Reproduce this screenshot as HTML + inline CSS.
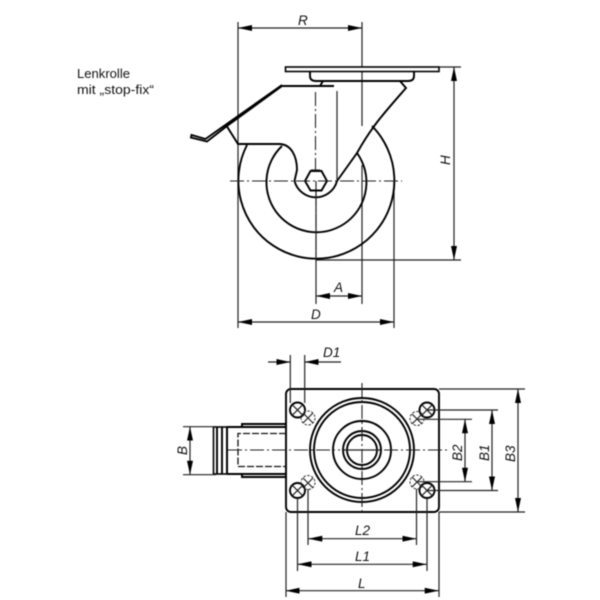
<!DOCTYPE html>
<html><head><meta charset="utf-8"><style>
html,body{margin:0;padding:0;background:#fff}
svg{display:block;filter:blur(.4px)}
text{font-family:"Liberation Sans",sans-serif;fill:#111}
.d{font-size:13.5px;font-style:italic}
.t{fill:none;stroke:#000;stroke-width:1.9}
.n{fill:none;stroke:#222;stroke-width:1.2}
.c{fill:none;stroke:#222;stroke-width:1.1;stroke-dasharray:14 3 2 3}
.h{fill:none;stroke:#333;stroke-width:1;stroke-dasharray:2.5 1.5}
.m{fill:none;stroke:#111;stroke-width:1.3;stroke-dasharray:7 2}
</style></head><body>
<svg width="600" height="600" viewBox="0 0 600 600" xmlns="http://www.w3.org/2000/svg">
<defs>
<marker id="a" viewBox="0 0 14 6" refX="14" refY="3" markerWidth="14" markerHeight="6" markerUnits="userSpaceOnUse" orient="auto-start-reverse"><path d="M0 0L14 3L0 6Z" fill="#000"/></marker>
</defs>

<text x="77" y="78" style="font-size:13px" textLength="53" lengthAdjust="spacingAndGlyphs">Lenkrolle</text>
<text x="77" y="94" style="font-size:13px" textLength="77" lengthAdjust="spacingAndGlyphs">mit „stop-fix“</text>

<!-- side view -->
<path class="n" d="M238 22V328M362 22V126M394 181V328M316 181V304M362 165V304M439 67H461M316 260H461"/>
<path class="n" d="M238 28H362" marker-start="url(#a)" marker-end="url(#a)"/>
<path class="n" d="M454 67V260" marker-start="url(#a)" marker-end="url(#a)"/>
<path class="n" d="M316 296H362" marker-start="url(#a)" marker-end="url(#a)"/>
<path class="n" d="M238 322H394" marker-start="url(#a)" marker-end="url(#a)"/>

<rect x="285.500" y="67" width="153.500" height="4.500" fill="#fff" stroke="#000" stroke-width="1.6"/>
<path class="t" d="M310 71.500V76Q310 81 316 81H408Q414 81 414 76V71.500"/>
<path class="t" d="M323 81L320 86M400 81L406 88C385 112 372 126 357 153L337 181"/>
<path class="t" d="M334 86H282L227 126L207 141.500L191 137.500L191.500 135L205.500 139L226 124.500L282 85"/>
<path class="t" d="M227 126.500L238 144H279C291 144 297 156 297 170L294.500 181A22 22 0 0 0 337 181"/>
<path class="t" d="M247 145A78 78 0 1 0 372 126"/>
<path class="t" d="M282 146A50 50 0 1 0 357 153"/>
<path class="t" d="M305 181L310.500 171H321.500L327 181L321.500 190.500H310.500Z" stroke-width="2"/>
<path class="n" d="M337 91V180"/>
<path class="c" d="M315.500 92V170"/>
<path class="c" d="M230 181H402"/>
<path class="c" d="M316 192V260"/>
<path class="n" d="M311 170H320"/>

<text class="d" x="298" y="25">R</text>
<text class="d" x="334" y="292">A</text>
<text class="d" x="311" y="319">D</text>
<text class="d" transform="translate(450,165) rotate(-90)">H</text>

<!-- top view -->
<rect x="286" y="389" width="153" height="123" rx="5" ry="5" fill="none" stroke="#000" stroke-width="1.9"/>
<g class="t">
<circle cx="362" cy="450" r="52"/>
<circle cx="362" cy="450" r="48"/>
<circle cx="362" cy="450" r="29"/>
<circle cx="362" cy="450" r="19"/>
<circle cx="362" cy="450" r="15"/>
</g>
<g fill="none" stroke="#000" stroke-width="1.9">
<circle cx="297.500" cy="410" r="7.500"/><circle cx="427" cy="410" r="7.500"/>
<circle cx="297.500" cy="490.500" r="7.500"/><circle cx="427" cy="490.500" r="7.500"/>
</g>
<path class="n" d="M292.200 404.700L302.800 415.300M302.800 404.700L292.200 415.300M421.700 404.700L432.300 415.300M432.300 404.700L421.700 415.300M292.200 485.200L302.800 495.800M302.800 485.200L292.200 495.800M421.700 485.200L432.300 495.800M432.300 485.200L421.700 495.800"/>
<g class="h">
<circle cx="308" cy="418" r="7"/><circle cx="417" cy="418.500" r="7"/>
<circle cx="308" cy="482.500" r="7"/><circle cx="417" cy="482" r="7"/>
</g>
<path class="n" d="M303 423L313 413M303 413L313 423M412 424L422 414M412 414L422 424M303 488L313 478M303 478L313 488M412 487L422 477M412 477L422 487" stroke-width="1"/>

<!-- wheel and fork -->
<rect x="213.500" y="427" width="13.500" height="47" fill="none" stroke="#000" stroke-width="1.6"/>
<path class="t" d="M217 427V474M222 427V474M227 427V474"/>
<path class="t" d="M227 427H286M227 474H286M242 427V424H286M242 474V477H286" stroke-width="1.6"/>
<path class="m" d="M286 433.500H238L238 466.500H286"/>
<path class="c" d="M228 450H340"/>
<path class="c" d="M384 450H448"/>
<path class="c" d="M362 383V515"/>
<path class="n" d="M344 450H380"/>

<!-- dims top view -->
<path class="n" d="M290.300 355V403M304.700 355V403"/>
<path class="n" d="M268 362H290.300" marker-end="url(#a)"/>
<path class="n" d="M341 362H304.700" marker-end="url(#a)"/>
<path class="n" d="M183 426.700H216M183 474.700H216"/>
<path class="n" d="M190 426.700V474.700" marker-start="url(#a)" marker-end="url(#a)"/>

<path class="n" d="M439 389H525M439 512H525M427 410H498M427 490.500H498M417 419.300H472M417 481.700H472"/>
<path class="n" d="M465 419.300V481.700" marker-start="url(#a)" marker-end="url(#a)"/>
<path class="n" d="M492 410V490.500" marker-start="url(#a)" marker-end="url(#a)"/>
<path class="n" d="M518 389V512" marker-start="url(#a)" marker-end="url(#a)"/>

<path class="n" d="M286 512V597M439 512V597M297.500 498V571M427 498V571M308 489V545M416.500 489V545"/>
<path class="n" d="M308.300 538.700H416.300" marker-start="url(#a)" marker-end="url(#a)"/>
<path class="n" d="M297.500 564.300H426.700" marker-start="url(#a)" marker-end="url(#a)"/>
<path class="n" d="M285.700 590.700H438.700" marker-start="url(#a)" marker-end="url(#a)"/>

<text class="d" x="323" y="357">D1</text>
<text class="d" transform="translate(187,455) rotate(-90)">B</text>
<text class="d" transform="translate(462,461) rotate(-90)">B2</text>
<text class="d" transform="translate(489,461) rotate(-90)">B1</text>
<text class="d" transform="translate(515,462) rotate(-90)">B3</text>
<text class="d" x="355" y="535">L2</text>
<text class="d" x="355" y="561">L1</text>
<text class="d" x="358" y="588">L</text>
</svg>
</body></html>
